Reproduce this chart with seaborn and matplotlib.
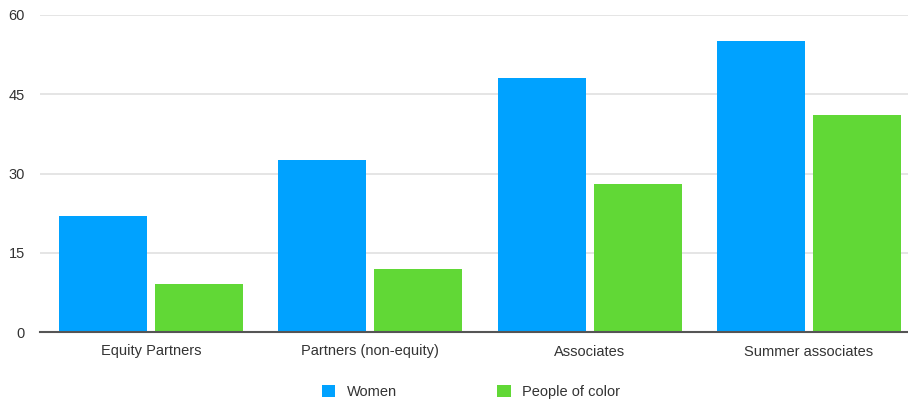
import matplotlib
matplotlib.use("Agg")
import matplotlib.pyplot as plt
from matplotlib.patches import Patch
import pandas as pd
import seaborn as sns

categories = ["Equity Partners", "Partners (non-equity)", "Associates", "Summer associates"]
series_names = ["Women", "People of color"]
women = [22, 32.5, 48, 55]
people_of_color = [9, 12, 28, 41]
y_ticks = [0, 15, 30, 45, 60]

colors = {"Women": "#00A2FF", "People of color": "#61D836"}

df = pd.DataFrame({
    "category": categories * 2,
    "series": [series_names[0]] * len(categories) + [series_names[1]] * len(categories),
    "value": women + people_of_color,
})

sns.set_theme(style="white")
plt.rcParams["font.family"] = ["Liberation Sans", "DejaVu Sans"]

fig = plt.figure(figsize=(9.08, 4.03), dpi=100)
ax = fig.add_axes([40 / 908, 71 / 403, 868 / 908, 317 / 403])

sns.barplot(data=df, x="category", y="value", hue="series", order=categories,
            hue_order=series_names, palette=colors, width=0.875, gap=0.083,
            saturation=1, legend=False, ax=ax, zorder=3)
for p in ax.patches:
    p.set_linewidth(0)

ax.set_ylim(0, 60)
ax.set_xlim(-0.506, 3.452)
ax.set_yticks(y_ticks)
ax.set_yticklabels([str(t) for t in y_ticks])
ax.yaxis.grid(True, color="#E0E0E0", linewidth=1.2, zorder=0)
ax.set_axisbelow(True)
for s in ["top", "right", "left"]:
    ax.spines[s].set_visible(False)
ax.spines["bottom"].set_color("#555555")
ax.spines["bottom"].set_linewidth(1.5)
ax.spines["bottom"].set_zorder(4)
ax.tick_params(axis="y", length=0, pad=11, labelsize=10.5, labelcolor="#333333")
ax.tick_params(axis="x", length=0, pad=9, labelsize=10.5, labelcolor="#333333")
ax.set_xlabel("")
ax.set_ylabel("")

handles = [Patch(facecolor=colors[n], edgecolor="none", label=n) for n in series_names]
fig.legend(handles=handles, loc="center", bbox_to_anchor=(471 / 908, 1 - 392 / 403),
           ncol=2, frameon=False, handlelength=0.9, handleheight=0.9,
           handletextpad=0.8, columnspacing=6.9, fontsize=10.5, labelcolor="#333333")

fig.savefig("out.png", dpi=100)
